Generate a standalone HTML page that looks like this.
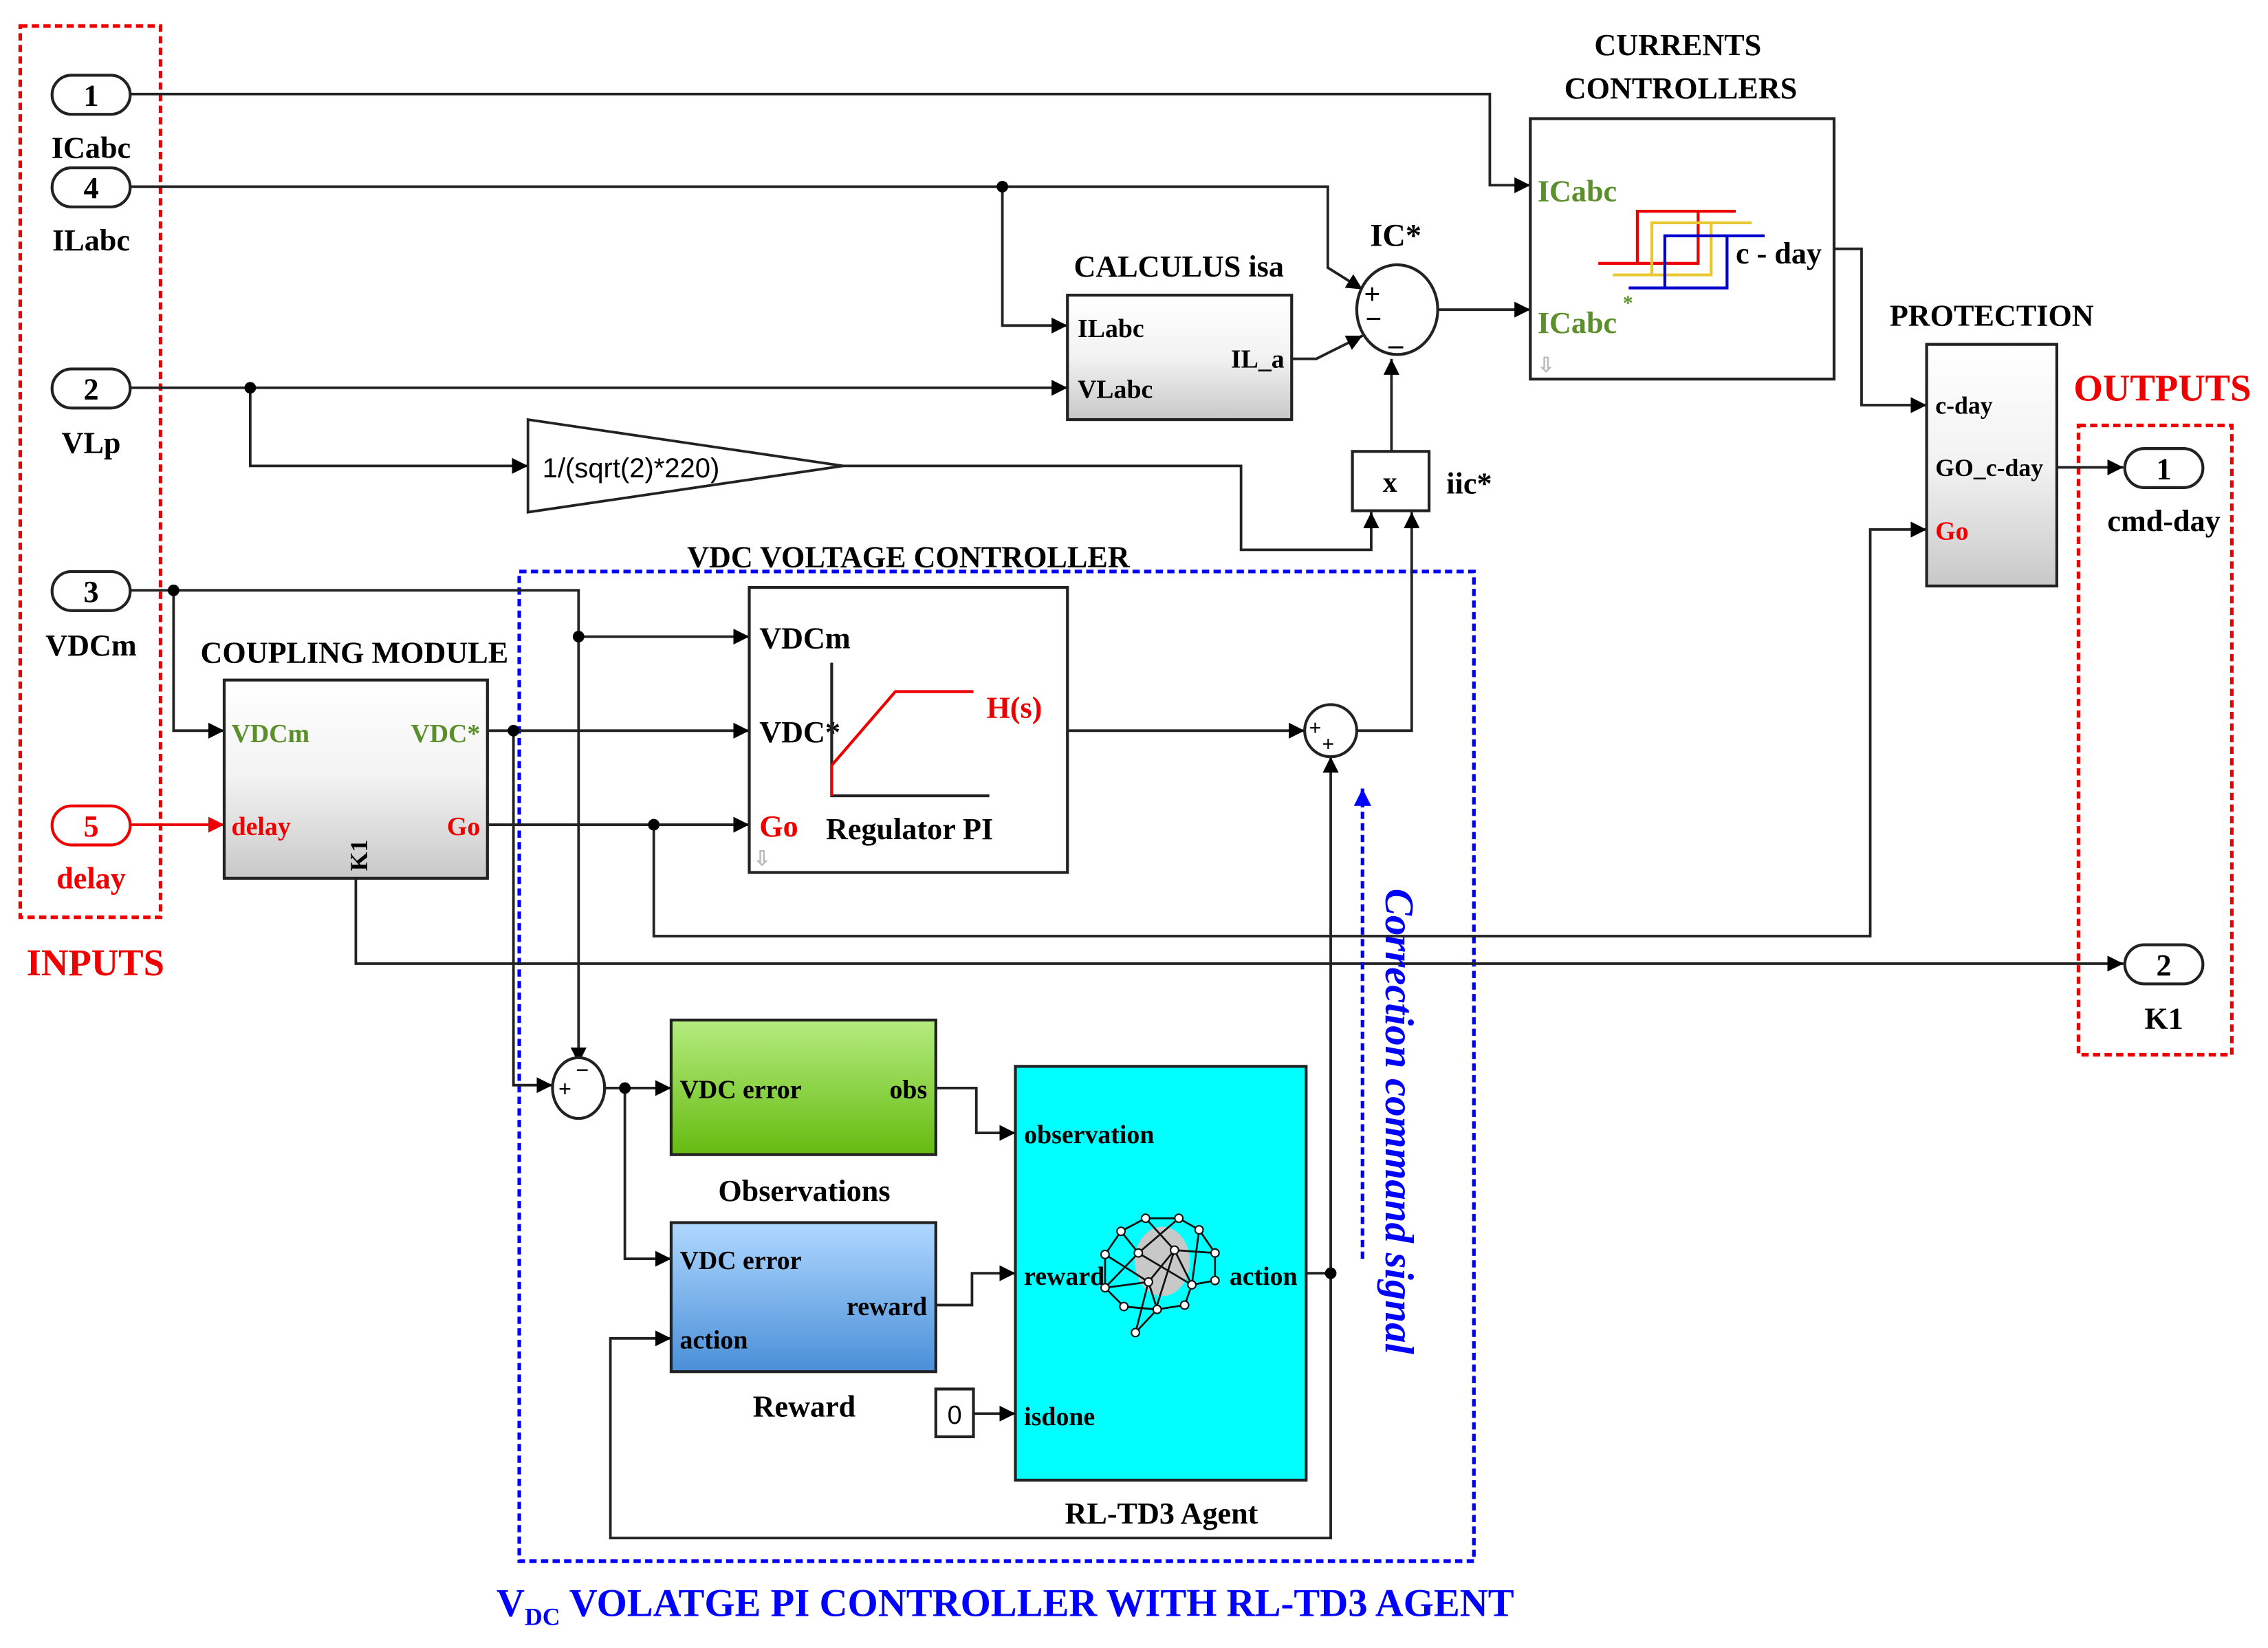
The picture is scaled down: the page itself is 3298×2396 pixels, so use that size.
<!DOCTYPE html>
<html><head><meta charset="utf-8">
<style>
html,body{margin:0;padding:0;background:#fff;}
svg{display:block;}
text{font-family:"Liberation Serif",serif;font-weight:bold;}
</style></head>
<body>
<svg width="3298" height="2396" viewBox="0 0 1568 1139" preserveAspectRatio="none" xmlns="http://www.w3.org/2000/svg">
<defs>
<marker id="a" viewBox="0 0 10 10" refX="10" refY="5" markerWidth="11" markerHeight="11" markerUnits="userSpaceOnUse" orient="auto"><path d="M0,0L10,5L0,10z" fill="#000"/></marker>
<marker id="ar" viewBox="0 0 10 10" refX="10" refY="5" markerWidth="11" markerHeight="11" markerUnits="userSpaceOnUse" orient="auto"><path d="M0,0L10,5L0,10z" fill="#e00"/></marker>
<marker id="ab" viewBox="0 0 10 10" refX="10" refY="5" markerWidth="14" markerHeight="12" markerUnits="userSpaceOnUse" orient="auto"><path d="M0,0L10,5L0,10z" fill="#00f"/></marker>
<linearGradient id="g" x1="0" y1="0" x2="0" y2="1"><stop offset="0" stop-color="#fff"/><stop offset="0.5" stop-color="#f2f2f2"/><stop offset="1" stop-color="#c8c8c8"/></linearGradient>
<linearGradient id="gg" x1="0" y1="0" x2="0" y2="1"><stop offset="0" stop-color="#b5ec80"/><stop offset="1" stop-color="#66bb10"/></linearGradient>
<linearGradient id="gb" x1="0" y1="0" x2="0" y2="1"><stop offset="0" stop-color="#b0d8ff"/><stop offset="1" stop-color="#4a8fd8"/></linearGradient>
</defs>

<rect x="14" y="18" width="97" height="616" fill="none" stroke="#e00" stroke-width="2.5" stroke-dasharray="5,3"/>
<text x="66" y="674" font-size="26" fill="#e00" text-anchor="middle">INPUTS</text>
<rect x="1437" y="294" width="106" height="435" fill="none" stroke="#e00" stroke-width="2.5" stroke-dasharray="5,3"/>
<text x="1495" y="277" font-size="26" fill="#e00" text-anchor="middle">OUTPUTS</text>
<rect x="359" y="395" width="660" height="684" fill="none" stroke="#00f" stroke-width="2.5" stroke-dasharray="5,3"/>
<text x="695" y="1117" font-size="27" fill="#00f" text-anchor="middle">V<tspan font-size="17" dy="6">DC</tspan><tspan dy="-6"> VOLATGE PI CONTROLLER WITH RL-TD3 AGENT</tspan></text>

<g fill="none" stroke="#222" stroke-width="1.8">
<path d="M90,65H1030V128H1058" marker-end="url(#a)"/>
<path d="M90,129H918V185L942,200" marker-end="url(#a)"/>
<path d="M693,129V225H738" marker-end="url(#a)"/>
<path d="M90,268H738" marker-end="url(#a)"/>
<path d="M173,268V322H365" marker-end="url(#a)"/>
<path d="M583,322H858V380H948V354" marker-end="url(#a)"/>
<path d="M893,248H910L942,232" marker-end="url(#a)"/>
<path d="M994,214H1058" marker-end="url(#a)"/>
<path d="M962,312V248" marker-end="url(#a)"/>
<path d="M938,505H976V354" marker-end="url(#a)"/>
<path d="M1268,172H1287V280H1332" marker-end="url(#a)"/>
<path d="M1422,323H1468" marker-end="url(#a)"/>
<path d="M90,408H400V735" marker-end="url(#a)"/>
<path d="M400,440H518" marker-end="url(#a)"/>
<path d="M120,408V505H155" marker-end="url(#a)"/>
<path d="M337,505H518" marker-end="url(#a)"/>
<path d="M355,505V750H382" marker-end="url(#a)"/>
<path d="M337,570H518" marker-end="url(#a)"/>
<path d="M452,570V647H1293V366H1332" marker-end="url(#a)"/>
<path d="M246,607V666H1468" marker-end="url(#a)"/>
<path d="M738,505H902" marker-end="url(#a)"/>
<path d="M920,880V523" marker-end="url(#a)"/>
<path d="M418,752H464" marker-end="url(#a)"/>
<path d="M432,752V870H464" marker-end="url(#a)"/>
<path d="M647,752H675V783H702" marker-end="url(#a)"/>
<path d="M647,902H672V880H702" marker-end="url(#a)"/>
<path d="M673,977H702" marker-end="url(#a)"/>
<path d="M903,880H920V1063H422V925H464" marker-end="url(#a)"/>
</g>
<path d="M90,570H155" stroke="#e00" stroke-width="1.8" fill="none" marker-end="url(#ar)"/>
<g fill="#000">
<circle cx="693" cy="129" r="4"/><circle cx="173" cy="268" r="4"/><circle cx="120" cy="408" r="4"/>
<circle cx="400" cy="440" r="4"/><circle cx="355" cy="505" r="4"/><circle cx="452" cy="570" r="4"/>
<circle cx="432" cy="752" r="4"/><circle cx="920" cy="880" r="4"/>
</g>

<g stroke="#222" stroke-width="2" fill="#fff">
<rect x="36" y="52" width="54" height="27" rx="13.5"/>
<rect x="36" y="116" width="54" height="27" rx="13.5"/>
<rect x="36" y="255" width="54" height="27" rx="13.5"/>
<rect x="36" y="395" width="54" height="27" rx="13.5"/>
<rect x="36" y="557" width="54" height="27" rx="13.5" stroke="#e00"/>
<rect x="1469" y="310" width="54" height="27" rx="13.5"/>
<rect x="1469" y="653" width="54" height="27" rx="13.5"/>
</g>
<g font-size="21" text-anchor="middle">
<text x="63" y="73">1</text><text x="63" y="137">4</text><text x="63" y="276">2</text><text x="63" y="416">3</text>
<text x="63" y="578" fill="#e00">5</text><text x="1496" y="331">1</text><text x="1496" y="674">2</text>
</g>
<g font-size="21" text-anchor="middle">
<text x="63" y="109">ICabc</text><text x="63" y="173">ILabc</text><text x="63" y="313">VLp</text><text x="63" y="453">VDCm</text>
<text x="63" y="614" fill="#e00">delay</text><text x="1496" y="367">cmd-day</text><text x="1496" y="711">K1</text>
</g>

<path d="M365,290L365,354L583,322Z" fill="#fff" stroke="#222" stroke-width="1.8"/>
<text x="375" y="330" font-size="19" style="font-family:'Liberation Sans',sans-serif;font-weight:normal">1/(sqrt(2)*220)</text>

<text x="815" y="191" font-size="21" text-anchor="middle">CALCULUS isa</text>
<rect x="738" y="204" width="155" height="86" fill="url(#g)" stroke="#222" stroke-width="2"/>
<text x="745" y="233" font-size="18">ILabc</text>
<text x="745" y="275" font-size="18">VLabc</text>
<text x="888" y="254" font-size="18" text-anchor="end">IL_a</text>

<text x="965" y="170" font-size="22" text-anchor="middle">IC*</text>
<ellipse cx="966" cy="214" rx="28" ry="31" fill="#fff" stroke="#222" stroke-width="2"/>
<text x="943" y="210" font-size="20" font-weight="normal">+</text>
<text x="944" y="227" font-size="20" font-weight="normal">−</text>
<text x="960" y="238" font-size="20" font-weight="normal">_</text>

<rect x="935" y="312" width="53" height="41" fill="#fff" stroke="#222" stroke-width="2"/>
<text x="961" y="340" font-size="20" text-anchor="middle">x</text>
<text x="1000" y="341" font-size="21">iic*</text>

<text x="1160" y="38" font-size="21" text-anchor="middle">CURRENTS</text>
<text x="1162" y="68" font-size="21" text-anchor="middle">CONTROLLERS</text>
<rect x="1058" y="82" width="210" height="180" fill="#fff" stroke="#222" stroke-width="2"/>
<text x="1063" y="139" font-size="21" fill="#5a8f2a">ICabc</text>
<text x="1063" y="230" font-size="21" fill="#5a8f2a">ICabc</text>
<text x="1122" y="214" font-size="14" fill="#5a8f2a">*</text>
<text x="1200" y="182" font-size="21">c - day</text>
<g fill="none" stroke-width="2">
<path d="M1200,146H1132V182H1105M1132,182H1174V146" stroke="#e00"/>
<path d="M1211,154H1142V190H1115M1142,190H1183V154" stroke="#e8c830"/>
<path d="M1220,163H1151V199H1126M1151,199H1194V163" stroke="#00c"/>
</g>
<text x="1063" y="257" font-size="14" fill="#bbb">⇩</text>

<text x="1377" y="225" font-size="21" text-anchor="middle">PROTECTION</text>
<rect x="1332" y="238" width="90" height="167" fill="url(#g)" stroke="#222" stroke-width="2"/>
<text x="1338" y="286" font-size="17">c-day</text>
<text x="1338" y="329" font-size="17">GO_c-day</text>
<text x="1338" y="373" font-size="18" fill="#e00">Go</text>

<text x="628" y="392" font-size="21" text-anchor="middle">VDC VOLTAGE CONTROLLER</text>

<text x="245" y="458" font-size="21" text-anchor="middle">COUPLING MODULE</text>
<rect x="155" y="470" width="182" height="137" fill="url(#g)" stroke="#222" stroke-width="2"/>
<text x="160" y="513" font-size="18" fill="#5a8f2a">VDCm</text>
<text x="332" y="513" font-size="18" fill="#5a8f2a" text-anchor="end">VDC*</text>
<text x="160" y="577" font-size="18" fill="#e00">delay</text>
<text x="332" y="577" font-size="18" fill="#e00" text-anchor="end">Go</text>
<text x="0" y="0" font-size="17" transform="translate(254,602) rotate(-90)">K1</text>

<rect x="518" y="406" width="220" height="197" fill="#fff" stroke="#222" stroke-width="2"/>
<text x="525" y="448" font-size="21">VDCm</text>
<text x="525" y="513" font-size="21">VDC*</text>
<text x="525" y="578" font-size="21" fill="#e00">Go</text>
<text x="571" y="580" font-size="21">Regulator PI</text>
<text x="682" y="496" font-size="21" fill="#e00">H(s)</text>
<path d="M575,458V550H684" fill="none" stroke="#222" stroke-width="2"/>
<path d="M575,550V529L619,478H673" fill="none" stroke="#e00" stroke-width="2"/>
<text x="521" y="598" font-size="14" fill="#bbb">⇩</text>

<circle cx="920" cy="505" r="18" fill="#fff" stroke="#222" stroke-width="2"/>
<text x="905" y="508" font-size="15" font-weight="normal">+</text>
<text x="914" y="519" font-size="15" font-weight="normal">+</text>

<path d="M942,870V545" fill="none" stroke="#00f" stroke-width="2.5" stroke-dasharray="5,3" marker-end="url(#ab)"/>
<text x="0" y="0" font-size="28" fill="#00f" font-style="italic" text-anchor="middle" transform="translate(958,775) rotate(90)">Correction command signal</text>

<ellipse cx="400" cy="752" rx="18" ry="21" fill="#fff" stroke="#222" stroke-width="2"/>
<text x="386" y="758" font-size="16" font-weight="normal">+</text>
<text x="398" y="745" font-size="16" font-weight="normal">−</text>

<rect x="464" y="705" width="183" height="93" fill="url(#gg)" stroke="#222" stroke-width="2"/>
<text x="470" y="759" font-size="18">VDC error</text>
<text x="641" y="759" font-size="18" text-anchor="end">obs</text>
<text x="556" y="830" font-size="21" text-anchor="middle">Observations</text>

<rect x="464" y="845" width="183" height="103" fill="url(#gb)" stroke="#222" stroke-width="2"/>
<text x="470" y="877" font-size="18">VDC error</text>
<text x="641" y="909" font-size="18" text-anchor="end">reward</text>
<text x="470" y="932" font-size="18">action</text>
<text x="556" y="979" font-size="21" text-anchor="middle">Reward</text>

<rect x="647" y="960" width="26" height="33" fill="#fff" stroke="#222" stroke-width="2"/>
<text x="660" y="984" font-size="18" text-anchor="middle" style="font-family:'Liberation Sans',sans-serif;font-weight:normal">0</text>

<rect x="702" y="737" width="201" height="286" fill="#00ffff" stroke="#222" stroke-width="2"/>
<text x="708" y="790" font-size="18">observation</text>
<text x="708" y="888" font-size="18">reward</text>
<text x="897" y="888" font-size="18" text-anchor="end">action</text>
<text x="708" y="985" font-size="18">isdone</text>
<text x="803" y="1053" font-size="21" text-anchor="middle">RL-TD3 Agent</text>
<ellipse cx="803.6" cy="871.8" rx="19" ry="24" fill="#c8c8c8"/>
<g stroke="#111" stroke-width="1.3" fill="none">
<path d="M792,842L815,842L829,850L840,866L840,885L824,888L819,902L800,905L777,903L764,890L764,867L775,851L792,842"/>
<path d="M792,842L812,864L824,888M815,842L787,866L764,890M775,851L787,866L824,888M764,867L794,886L800,905M812,864L840,866M812,864L794,886L785,921L800,905M829,850L824,888M794,886L764,890M777,903L799,905M812,864L799,905"/>
</g>
<g fill="#fff" stroke="#111" stroke-width="1">
<circle cx="792" cy="842" r="2.8"/><circle cx="815" cy="842" r="2.8"/><circle cx="829" cy="850" r="2.8"/>
<circle cx="775" cy="851" r="2.8"/><circle cx="764" cy="867" r="2.8"/><circle cx="787" cy="866" r="2.8"/>
<circle cx="812" cy="864" r="2.8"/><circle cx="840" cy="866" r="2.8"/><circle cx="840" cy="885" r="2.8"/>
<circle cx="764" cy="890" r="2.8"/><circle cx="794" cy="886" r="2.8"/><circle cx="824" cy="888" r="2.8"/>
<circle cx="777" cy="903" r="2.8"/><circle cx="800" cy="905" r="2.8"/><circle cx="819" cy="902" r="2.8"/>
<circle cx="785" cy="921" r="2.8"/>
</g>
</svg>
</body></html>
